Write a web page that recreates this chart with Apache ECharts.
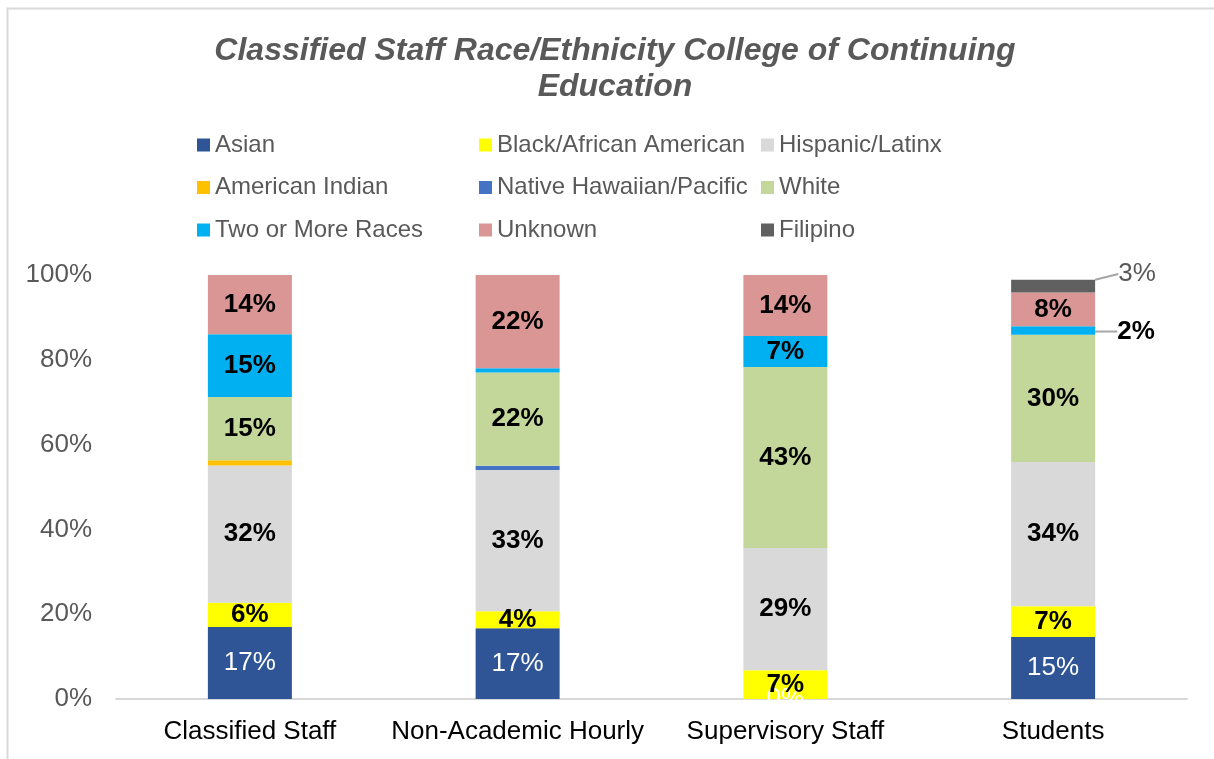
<!DOCTYPE html>
<html>
<head>
<meta charset="utf-8">
<script src="https://cdn.jsdelivr.net/npm/echarts@6/dist/echarts.min.js"></script>
<style>
  html, body { margin: 0; padding: 0; background: #fff; }
  #chart { width: 1214px; height: 759px; }
</style>
</head>
<body>
<div id="chart"></div>
<script>
// category names and series values (percent of each group)
const categories = ['Classified Staff', 'Non-Academic Hourly', 'Supervisory Staff', 'Students'];
const asian = [17.0, 16.7, 0, 14.6];
const black = [5.7, 4.0, 6.8, 7.3];
const hispanic = [32.4, 33.3, 28.8, 34.0];
const americanIndian = [1.2, null, null, null];
const nativeHawaiian = [null, 1.0, null, null];
const white = [14.9, 22.0, 42.7, 30.0];
const twoOrMore = [14.8, 1.0, 7.3, 2.0];
const unknown = [14.0, 22.0, 14.4, 8.0];
const filipino = [null, null, null, 3.0];

const yTicks = [0, 20, 40, 60, 80, 100];

// legend columns as in the picture
const legendCol1 = ['Asian', 'American Indian', 'Two or More Races'];
const legendCol2 = ['Black/African American', 'Native Hawaiian/Pacific', 'Unknown'];
const legendCol3 = ['Hispanic/Latinx', 'White', 'Filipino'];

const FONT = "'Liberation Sans', Arial, sans-serif";

const pctLabel = (p) => {
    if (p.value == null) return '';
    if (p.value !== 0 && p.value < 1.5) return ''; // slivers carry no label
    return Math.round(p.value) + '%';
};

const boldLabel = {
    show: true,
    position: 'inside',
    color: '#000',
    fontWeight: 'bold',
    fontSize: 26,
    fontFamily: FONT,
    formatter: pctLabel,
};

const mkSeries = (name, data, color, extra) => Object.assign({
    name: name,
    type: 'bar',
    stack: 'total',
    barWidth: 84,
    data: data,
    itemStyle: { color: color },
    label: boldLabel,
}, extra || {});

const legendBase = {
    orient: 'vertical',
    top: 132,
    padding: 0,
    icon: 'rect',
    itemWidth: 13,
    itemHeight: 13,
    itemGap: 16.5,
    selectedMode: false,
    textStyle: { color: '#595959', fontSize: 24, lineHeight: 26, fontFamily: FONT },
};

const chart = echarts.init(document.getElementById('chart'));
chart.setOption({
    animation: false,
    backgroundColor: '#fff',
    textStyle: { fontFamily: FONT },
    graphic: [{ // chart area border
        type: 'rect',
        shape: { x: 7.5, y: 8.5, width: 1400, height: 900 },
        style: { fill: 'none', stroke: '#d9d9d9', lineWidth: 2 },
        silent: true,
    }],
    title: {
        text: 'Classified Staff Race/Ethnicity College of Continuing\nEducation',
        left: 610,
        top: 28,
        textAlign: 'center',
        textStyle: {
            color: '#595959',
            fontSize: 32,
            fontWeight: 'bold',
            fontStyle: 'italic',
            lineHeight: 36,
            fontFamily: FONT,
        },
    },
    legend: [
        Object.assign({ left: 197, data: legendCol1 }, legendBase),
        Object.assign({ left: 479, data: legendCol2 }, legendBase),
        Object.assign({ left: 761, data: legendCol3 }, legendBase),
    ],
    grid: { left: 116, right: 27, top: 275, bottom: 60 },
    xAxis: {
        type: 'category',
        data: categories,
        axisLine: { lineStyle: { color: '#d9d9d9', width: 2 } },
        axisTick: { show: false },
        axisLabel: { color: '#000', fontSize: 26, margin: 20, interval: 0, fontFamily: FONT },
    },
    yAxis: {
        type: 'value',
        min: yTicks[0],
        max: yTicks[yTicks.length - 1],
        interval: yTicks[1] - yTicks[0],
        splitLine: { show: false },
        axisLine: { show: false },
        axisTick: { show: false },
        axisLabel: { color: '#595959', fontSize: 26, margin: 24, formatter: '{value}%', fontFamily: FONT },
    },
    series: [
        mkSeries('Asian', asian, '#2F5597', {
            label: Object.assign({}, boldLabel, { color: '#fff', fontWeight: 'normal' }),
        }),
        mkSeries('Black/African American', black, '#FFFF00'),
        mkSeries('Hispanic/Latinx', hispanic, '#D9D9D9'),
        mkSeries('American Indian', americanIndian, '#FFC000'),
        mkSeries('Native Hawaiian/Pacific', nativeHawaiian, '#4472C4'),
        mkSeries('White', white, '#C4D79B'),
        mkSeries('Two or More Races', twoOrMore, '#00B0F0', {
            // the 2% on Students is pulled out to the right
            labelLayout: (p) => (p.dataIndex === 3 ? { dx: 83, dy: 1 } : {}),
            labelLine: { show: true, lineStyle: { color: '#a6a6a6', width: 2 } },
        }),
        mkSeries('Unknown', unknown, '#DA9694'),
        mkSeries('Filipino', filipino, '#606060', {
            label: Object.assign({}, boldLabel, { color: '#595959', fontWeight: 'normal' }),
            labelLayout: { dx: 84, dy: -12 },
            labelLine: { show: true, lineStyle: { color: '#a6a6a6', width: 2 } },
        }),
    ],
});
</script>
</body>
</html>
